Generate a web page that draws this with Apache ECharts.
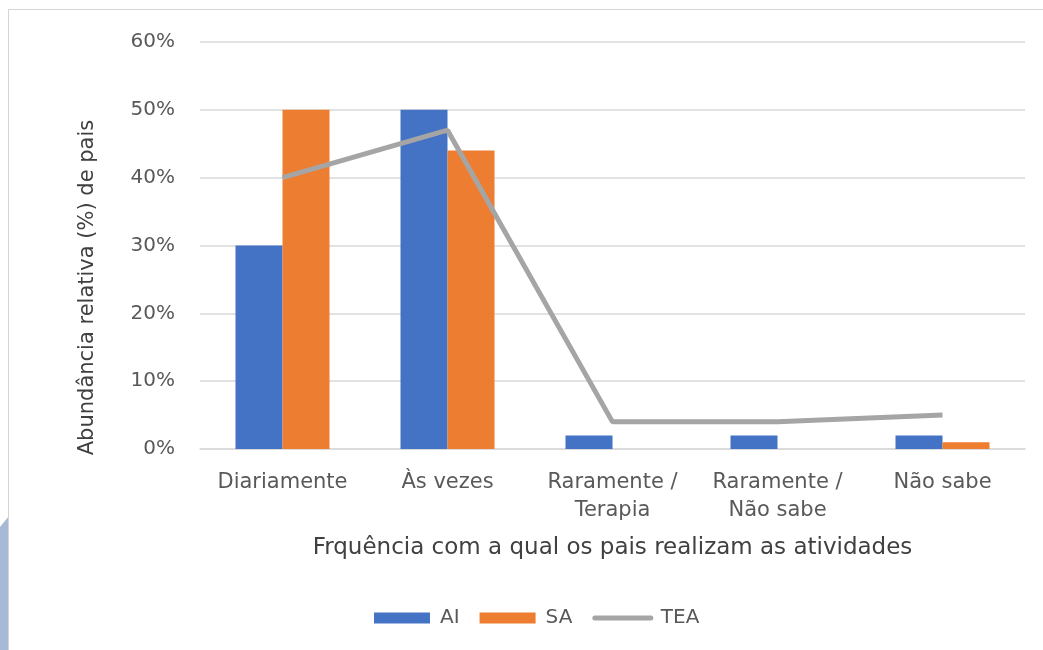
<!DOCTYPE html>
<html><head><meta charset="utf-8">
<script src="https://cdn.jsdelivr.net/npm/echarts@6/dist/echarts.min.js"></script>
<style>html,body{margin:0;padding:0;background:#fff}#c{width:1043px;height:650px}</style>
</head><body><div id="c"></div>
<script>
var categories = ['Diariamente', 'Às vezes', 'Raramente /\nTerapia', 'Raramente /\nNão sabe', 'Não sabe'];
var aiValues = [30, 50, 2, 2, 2];
var saValues = [50, 44, 0, 0, 1];
var teaValues = [40, 47, 4, 4, 5];
var yTicks = [0, 10, 20, 30, 40, 50, 60];

var font = 'DejaVu Sans';
var chart = echarts.init(document.getElementById('c'));
chart.setOption({
  animation: false,
  backgroundColor: '#fff',
  textStyle: { fontFamily: font },
  graphic: [
    { type: 'polygon', shape: { points: [[0, 527], [9, 516], [9, 650], [0, 650]] }, style: { fill: '#a7b9d4' } },
    { type: 'polyline', shape: { points: [[8.5, 1043], [8.5, 9.5], [1043, 9.5]] }, style: { stroke: '#d4d4d4', lineWidth: 1, fill: null } }
  ],
  grid: { left: 200, right: 18, top: 42, bottom: 201 },
  legend: {
    bottom: 17, left: 369,
    itemWidth: 56, itemHeight: 11, itemGap: 20,
    textStyle: { fontSize: 20, color: '#595959', fontFamily: font, padding: [0, 0, 0, 5] },
    data: [
      { name: 'AI', icon: 'rect' },
      { name: 'SA', icon: 'rect' },
      { name: 'TEA', itemStyle: { opacity: 0 }, lineStyle: { width: 5, cap: 'round', color: '#A5A5A5' } }
    ]
  },
  xAxis: {
    type: 'category',
    data: categories,
    axisTick: { show: false },
    axisLine: { lineStyle: { color: '#d9d9d9', width: 1.5 } },
    axisLabel: { color: '#595959', fontSize: 21, margin: 20, lineHeight: 28, interval: 0 },
    name: 'Frquência com a qual os pais realizam as atividades',
    nameLocation: 'middle',
    nameGap: 88,
    nameTextStyle: { color: '#404040', fontSize: 23 }
  },
  yAxis: {
    type: 'value',
    min: 0, max: 60, interval: 10,
    axisLabel: { formatter: function (v) { return yTicks.indexOf(v) >= 0 ? v + '%' : ''; }, color: '#595959', fontSize: 20, margin: 25 },
    splitLine: { lineStyle: { color: '#d9d9d9', width: 1.5 } },
    axisLine: { show: false },
    axisTick: { show: false },
    name: 'Abundância relativa (%) de pais',
    nameLocation: 'middle',
    nameGap: 102,
    nameTextStyle: { color: '#404040', fontSize: 21, padding: [0, 84, 0, 0] }
  },
  series: [
    { name: 'AI', type: 'bar', data: aiValues, barWidth: 47, barGap: '0%', itemStyle: { color: '#4472C4' } },
    { name: 'SA', type: 'bar', data: saValues, barWidth: 47, barGap: '0%', itemStyle: { color: '#ED7D31' } },
    { name: 'TEA', type: 'line', data: teaValues, symbol: 'none', lineStyle: { color: '#A5A5A5', width: 5 }, itemStyle: { color: '#A5A5A5' } }
  ]
});
</script></body></html>
